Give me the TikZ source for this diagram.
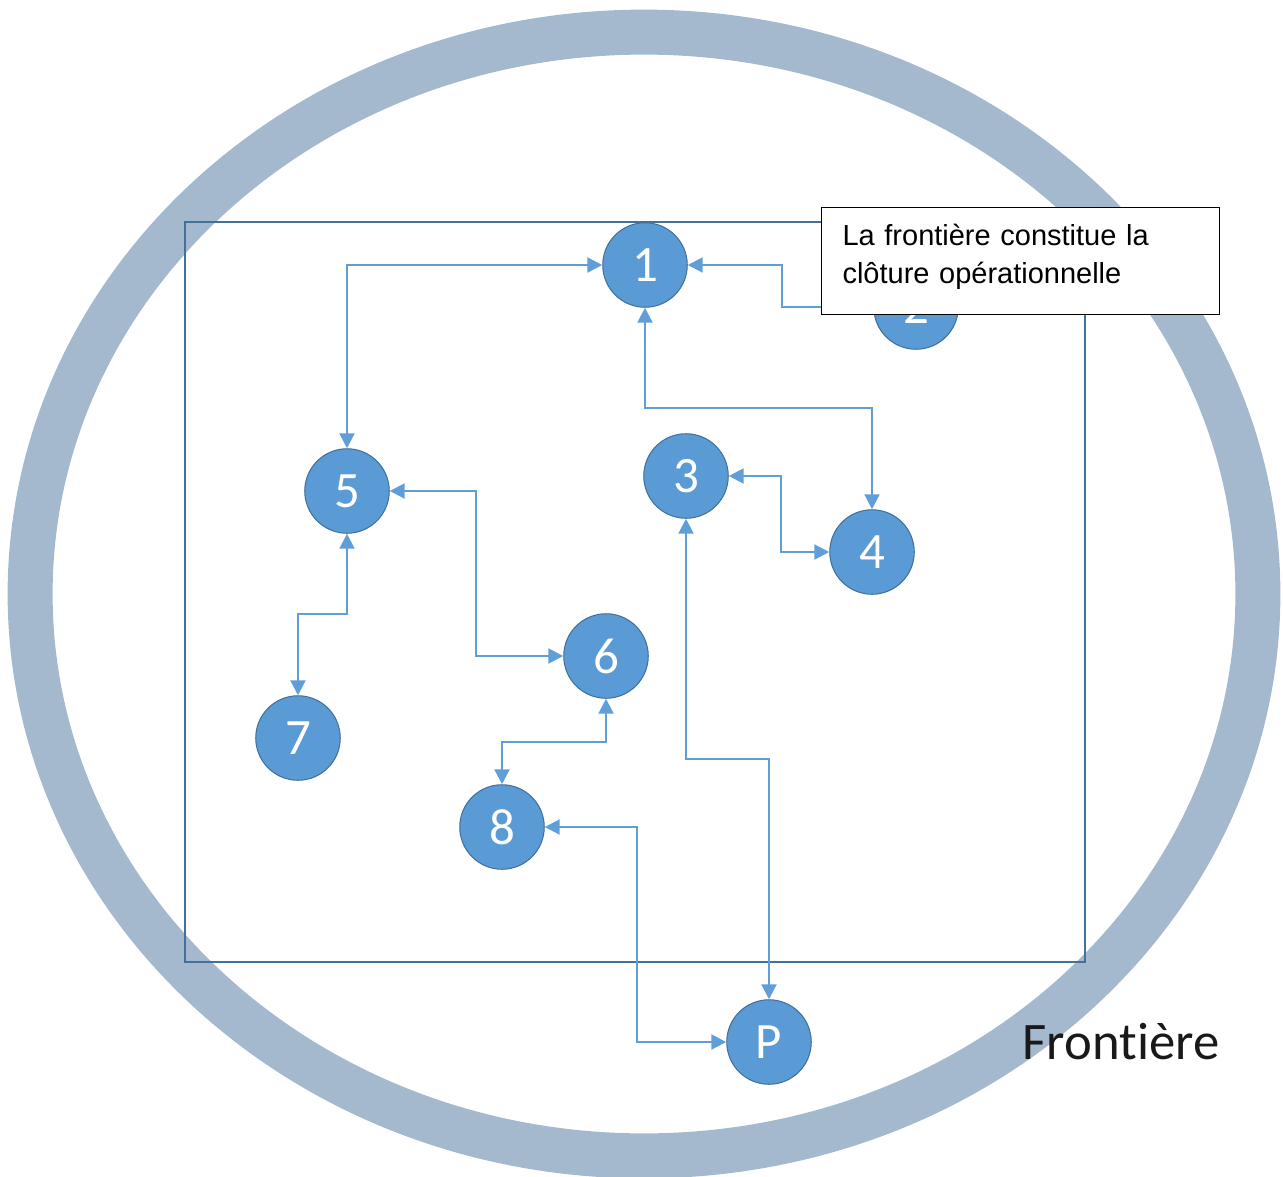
\documentclass[tikz,border=0pt]{standalone}
\usepackage{fontspec}
\setmainfont{Liberation Sans}
\newfontfamily\calib[Ligatures=NoCommon]{Carlito}
\usetikzlibrary{arrows.meta}
\definecolor{ringc}{RGB}{165,185,206}
\definecolor{nodefill}{RGB}{91,155,213}
\definecolor{nodeedge}{RGB}{65,113,156}
\definecolor{linkc}{RGB}{95,158,216}
\definecolor{framec}{RGB}{65,113,156}
\tikzset{
  ring/.style={draw=ringc, line width=0.9cm},
  frame/.style={draw=framec, line width=1.1pt},
  proc/.style={circle, fill=nodefill, draw=nodeedge, line width=0.6pt, minimum size=1.69cm, inner sep=0pt, text=white, font=\calib\fontsize{29}{29}\selectfont},
  link/.style={draw=linkc, line width=1.3pt, {Triangle[length=8.5pt,width=8.5pt]}-{Triangle[length=8.5pt,width=8.5pt]}},
  linkone/.style={draw=linkc, line width=1.3pt, -{Triangle[length=8.5pt,width=8.5pt]}},
  callout/.style={draw=black, line width=0.6pt, fill=white, minimum width=7.96cm, minimum height=2.14cm, text width=7.12cm, inner xsep=0.42cm, inner ysep=0pt, text height=21.5pt, text depth=39pt, align=left, font=\fontsize{16.5}{21.5}\selectfont},
  frontlabel/.style={font=\calib\fontsize{30}{30}\selectfont, text=black!90}
}
\begin{document}
\begin{tikzpicture}[x=0.02cm, y=-0.02cm]
\useasboundingbox (0,0) rectangle (1283,1176);
\clip (0,0) rectangle (1283,1176);
\draw[ring] (644,594) ellipse [x radius=12.28cm, y radius=11.24cm];
\draw[frame] (185,222) rectangle (1085,962);
\node[proc] (n1) at (645,265) {1};
\node[proc] (n2) at (916,307) {2};
\node[proc] (n3) at (686,476) {3};
\node[proc] (n4) at (872,552) {4};
\node[proc] (n5) at (347,491) {5};
\node[proc] (n6) at (606,656) {6};
\node[proc] (n7) at (298,738) {7};
\node[proc] (n8) at (502,827) {8};
\node[proc] (nP) at (769,1042) {P};
\draw[link] (n1.west) -| (n5.north);
\draw[linkone] (n2.west) -- ++(-91,0) |- (n1.east);
\draw[link] (n1.south) -- ++(0,100) -| (n4.north);
\draw[link] (n3.east) -- ++(52,0) |- (n4.west);
\draw[link] (n5.east) -- ++(86,0) |- (n6.west);
\draw[link] (n5.south) -- ++(0,80) -| (n7.north);
\draw[link] (n6.south) -- ++(0,43) -| (n8.north);
\draw[link] (n3.south) -- ++(0,240) -| (nP.north);
\draw[link] (n8.east) -- ++(92,0) |- (nP.west);
\node[callout, anchor=north west] (note) at (821,207) {La frontière constitue la\\clôture opérationnelle};
\node[frontlabel] (front) at (1121,1042) {Frontière};
\end{tikzpicture}
\end{document}
